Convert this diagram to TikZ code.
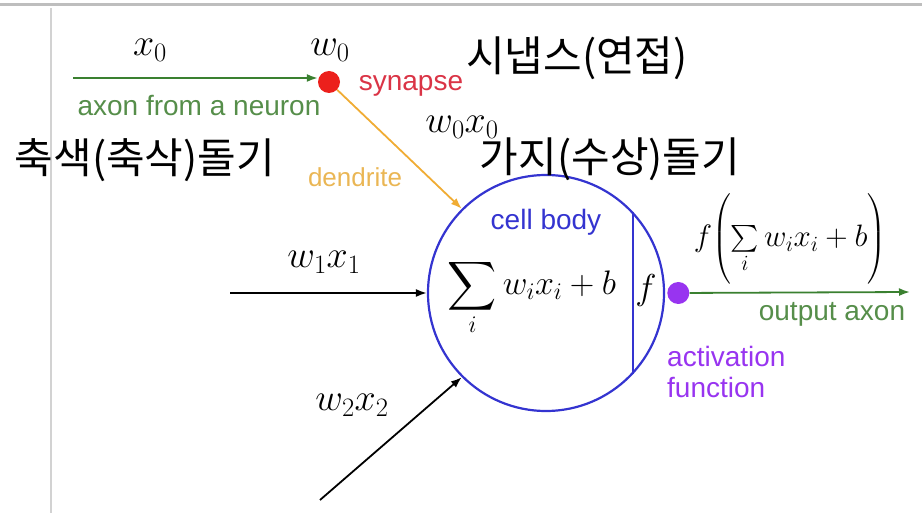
\RequirePackage{fix-cm}
\documentclass[tikz,border=0pt]{standalone}
\usepackage{amsmath}
\usepackage{graphicx}
\usepackage{fontspec}
\setsansfont{Liberation Sans}
\newfontfamily\krfont{Noto Sans CJK KR}
\usetikzlibrary{positioning,arrows.meta,calc}

\definecolor{axongreen}{RGB}{58,128,48}
\definecolor{axontext}{RGB}{86,142,74}
\definecolor{synred}{RGB}{236,32,28}
\definecolor{syntext}{RGB}{218,52,70}
\definecolor{dendorange}{RGB}{240,172,52}
\definecolor{dendtext}{RGB}{234,182,84}
\definecolor{bodyblue}{RGB}{52,52,208}
\definecolor{actpurple}{RGB}{152,52,240}
\definecolor{framegray}{RGB}{190,190,190}

% large summation signs (cmex does not grow past 24.88pt)
\newcommand{\cellsum}{\mathop{\vcenter{\hbox{\scalebox{1.37}{$\displaystyle\sum$}}}}\limits}
\newcommand{\outsum}{\mathop{\vcenter{\hbox{\scalebox{1.25}{$\textstyle\sum$}}}}\limits}

\begin{document}
\begin{tikzpicture}[
    x=1pt, y=-1pt,
    >={Latex[length=11pt,width=8pt]},
    lbl/.style    ={inner sep=0pt, font=\sffamily\fontsize{28}{31}\selectfont},
    mathlbl/.style={inner sep=0pt, font=\fontsize{38}{40}\selectfont},
    kor/.style    ={inner sep=0pt, font=\krfont\fontsize{42}{44}\selectfont},
    dot/.style    ={circle, inner sep=0pt, minimum size=22pt},
    wire/.style   ={line width=1.8pt}
]
\useasboundingbox (0,0) rectangle (922,513);

% --- screenshot frame ---
\draw[framegray, line width=3pt] (0,5) -- (922,5);
\draw[framegray!70, line width=2pt] (51,8) -- (51,513);

% --- synapse and cell body ---
\node[dot, fill=synred] (syn) at (329,82) {};
\node[draw=bodyblue, line width=2.2pt, circle, minimum size=236pt] (body) at (546,293) {};
\draw[bodyblue, line width=2pt] (body.43.9) -- (body.-43.9);
\node[dot, fill=actpurple, right=2pt of body.east] (act) {};

% --- inputs ---
\coordinate (ax0) at (73,78);
\coordinate (in1) at (230,293);
\coordinate (in2) at (320,500);
\coordinate (out) at (910,292);
\draw[->, wire, axongreen] (ax0) -- (ax0 -| syn.west);
\draw[->, wire, dendorange] (syn) -- (body.135);
\draw[->, wire] (in1) -- (body.west);
\draw[->, wire] (in2) -- (body.225);
\draw[->, wire, axongreen] (act) -- (out);

% --- labels ---
\node[mathlbl] (lx0) at (150,50) {$x_0$};
\node[mathlbl] (lw0) at (330,50) {$w_0$};
\node[lbl, syntext] (lsyn) at (411,86) {synapse};
\node[lbl, axontext] (laxon) at (199,106) {axon from a neuron};
\node[mathlbl] (lwx0) at (462,127) {$w_0x_0$};
\node[lbl, dendtext, font=\sffamily\fontsize{26}{30}\selectfont] (ldend) at (355,177) {dendrite};
\node[lbl, bodyblue] (lbody) at (546,222) {cell body};
\node[inner sep=0pt, font=\fontsize{34}{40}\selectfont] (lsum) at (532,297) {$\cellsum_i w_ix_i+b$};
\node[inner sep=0pt, font=\fontsize{36}{40}\selectfont] (lf) at (646,291) {$f$};
\node[inner sep=0pt, scale=0.86, transform shape, font=\fontsize{36}{40}\selectfont] (lfsum) at (790,239) {$f\Biggl(\outsum_i w_ix_i+b\Biggr)$};
\node[lbl, axontext] (lout) at (832,314) {output axon};
\node[lbl, actpurple, align=left, anchor=west] (lact) at (667,372) {activation\\function};
\node[mathlbl] (lwx1) at (324,262) {$w_1x_1$};
\node[mathlbl] (lwx2) at (352,405) {$w_2x_2$};

% --- Korean annotations ---
\node[kor] (ksyn) at (577,58) {시냅스(연접)};
\node[kor] (kaxon) at (145,160) {축색(축삭)돌기};
\node[kor] (kdend) at (610,159) {가지(수상)돌기};

\end{tikzpicture}
\end{document}
